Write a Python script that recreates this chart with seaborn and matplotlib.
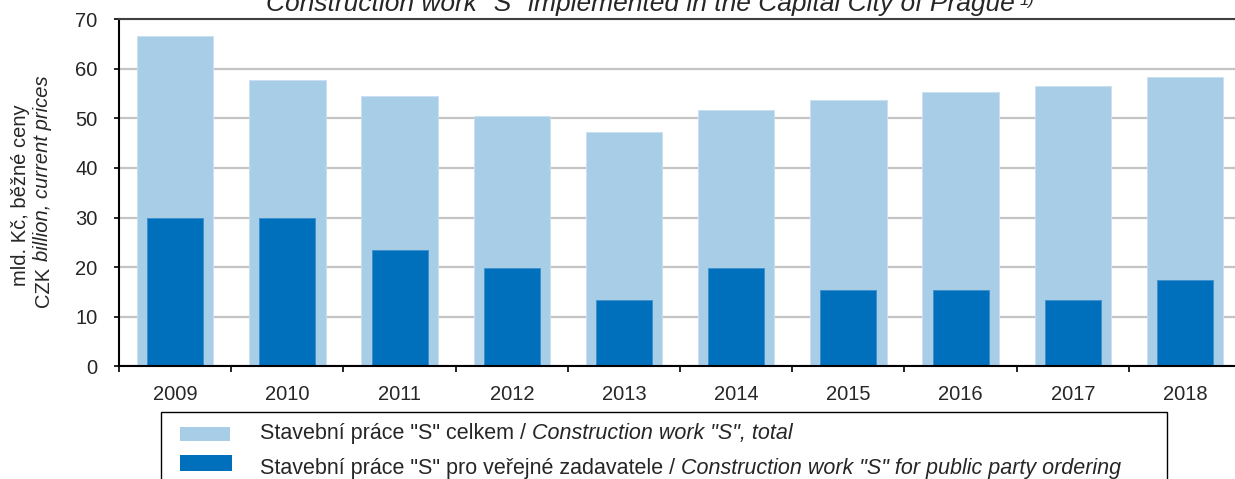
import numpy as np
import matplotlib
matplotlib.use("Agg")
import matplotlib.pyplot as plt
from matplotlib.patches import Rectangle
import seaborn as sns

# Data (CZK billion, current prices)
years = ["2009", "2010", "2011", "2012", "2013", "2014", "2015", "2016", "2017", "2018"]
total = [66.7, 57.8, 54.6, 50.5, 47.3, 51.8, 53.8, 55.4, 56.6, 58.3]
public = [29.8, 29.8, 23.4, 19.7, 13.4, 19.7, 15.3, 15.3, 13.4, 17.3]

light = "#A7CDE7"
dark = "#0070BD"

sns.set_theme(style="white")
plt.rcParams["font.family"] = ["Liberation Sans", "DejaVu Sans"]
tick_fs = 14.5
fs = 15.5
ylab_fs = 14.5

W, H = 1235, 479
fig = plt.figure(figsize=(W / 100, H / 100), dpi=100)
ax = fig.add_axes([0.0964, 0.2359, 0.9085, 0.7234])

ax.yaxis.grid(True, color="#c4c4c4", linewidth=1.6)
ax.set_axisbelow(True)

sns.barplot(x=years, y=total, color=light, width=0.68, saturation=1,
            edgecolor="#c9e0f0", linewidth=0.6, ax=ax)
sns.barplot(x=years, y=public, color=dark, width=0.5, saturation=1,
            edgecolor="#3d8fcc", linewidth=0.6, ax=ax)

ax.set_ylim(0, 70)
ax.set_xlim(-0.5, 9.5)
ax.set_yticks(np.arange(0, 71, 10))
ax.tick_params(axis="y", direction="out", length=3.6, width=1.2, color="black",
               labelsize=tick_fs, pad=12, left=True)
ax.set_xticks(range(len(years)))
ax.set_xticklabels(years)
ax.set_xticks(np.arange(-0.5, 10, 1), minor=True)
ax.tick_params(axis="x", which="major", length=0, labelsize=tick_fs, pad=13.5)
ax.tick_params(axis="x", which="minor", direction="out", length=4, width=1.2,
               color="black", bottom=True)
ax.set_xlabel("")
ax.set_ylabel("")

for side in ["left", "bottom"]:
    ax.spines[side].set_color("black")
    ax.spines[side].set_linewidth(1.5)
ax.spines["top"].set_color("#404040")
ax.spines["top"].set_linewidth(1.5)
ax.spines["right"].set_visible(False)

renderer = fig.canvas.get_renderer()


def seg_width(s, style, size, rotation=0):
    t = fig.text(0, 0, s, fontsize=size, style=style, rotation=rotation)
    bb = t.get_window_extent(renderer)
    t.remove()
    return bb.height if rotation else bb.width


def mixed_row(x, y, parts, size):
    # x, y in pixels from top-left; parts = (text, style, space_after)
    space = size * 100 / 72 * 0.278
    for s, style, gap in parts:
        fig.text(x / W, 1 - y / H, s, fontsize=size, style=style, ha="left", va="baseline")
        x += seg_width(s, style, size) + (space if gap else 0)


def mixed_column(x, yc, parts, size):
    # rotated 90 text, centred vertically at yc (pixels from top)
    space = size * 100 / 72 * 0.278
    sizes = [seg_width(s, st, size, 90) + (space if gap else 0) for s, st, gap in parts]
    y = (H - yc) - sum(sizes) / 2
    for (s, st, gap), sz in zip(parts, sizes):
        fig.text(x / W, y / H, s, fontsize=size, style=st, rotation=90,
                 ha="center", va="bottom")
        y += sz


# y label, two lines
mixed_column(21, 195, [("mld. Kč, běžné ceny", "normal", False)], ylab_fs)
mixed_column(43, 191, [("CZK", "normal", True), ("billion, current prices", "italic", False)], ylab_fs)

# title, cut off at the top edge
fig.text(640 / W, 1 - 11 / H, 'Construction work "S" implemented in the Capital City of Prague',
         ha="center", va="baseline", fontsize=19, style="italic")
fig.text(1020 / W, 1 - 5 / H, "1)", ha="left", va="baseline", fontsize=12, style="italic")

# legend box drawn by hand so that the labels can mix upright and italic text
fig.patches.append(Rectangle((161 / W, -0.05), (1167 - 161) / W, 0.05 + (H - 412) / H,
                             transform=fig.transFigure, facecolor="white",
                             edgecolor="black", linewidth=1.0))
fig.patches.append(Rectangle((180 / W, 1 - 441 / H), 50 / W, 14 / H,
                             transform=fig.transFigure, facecolor=light, edgecolor="none"))
fig.patches.append(Rectangle((180 / W, 1 - 471 / H), 52 / W, 16 / H,
                             transform=fig.transFigure, facecolor=dark, edgecolor="none"))
mixed_row(260, 439, [('Stavební práce "S" celkem /', "normal", True),
                     ('Construction work "S", total', "italic", False)], fs)
mixed_row(260, 474, [('Stavební práce "S" pro veřejné zadavatele /', "normal", True),
                     ('Construction work "S" for public party ordering', "italic", False)], fs)

fig.savefig("out.png", dpi=100)
